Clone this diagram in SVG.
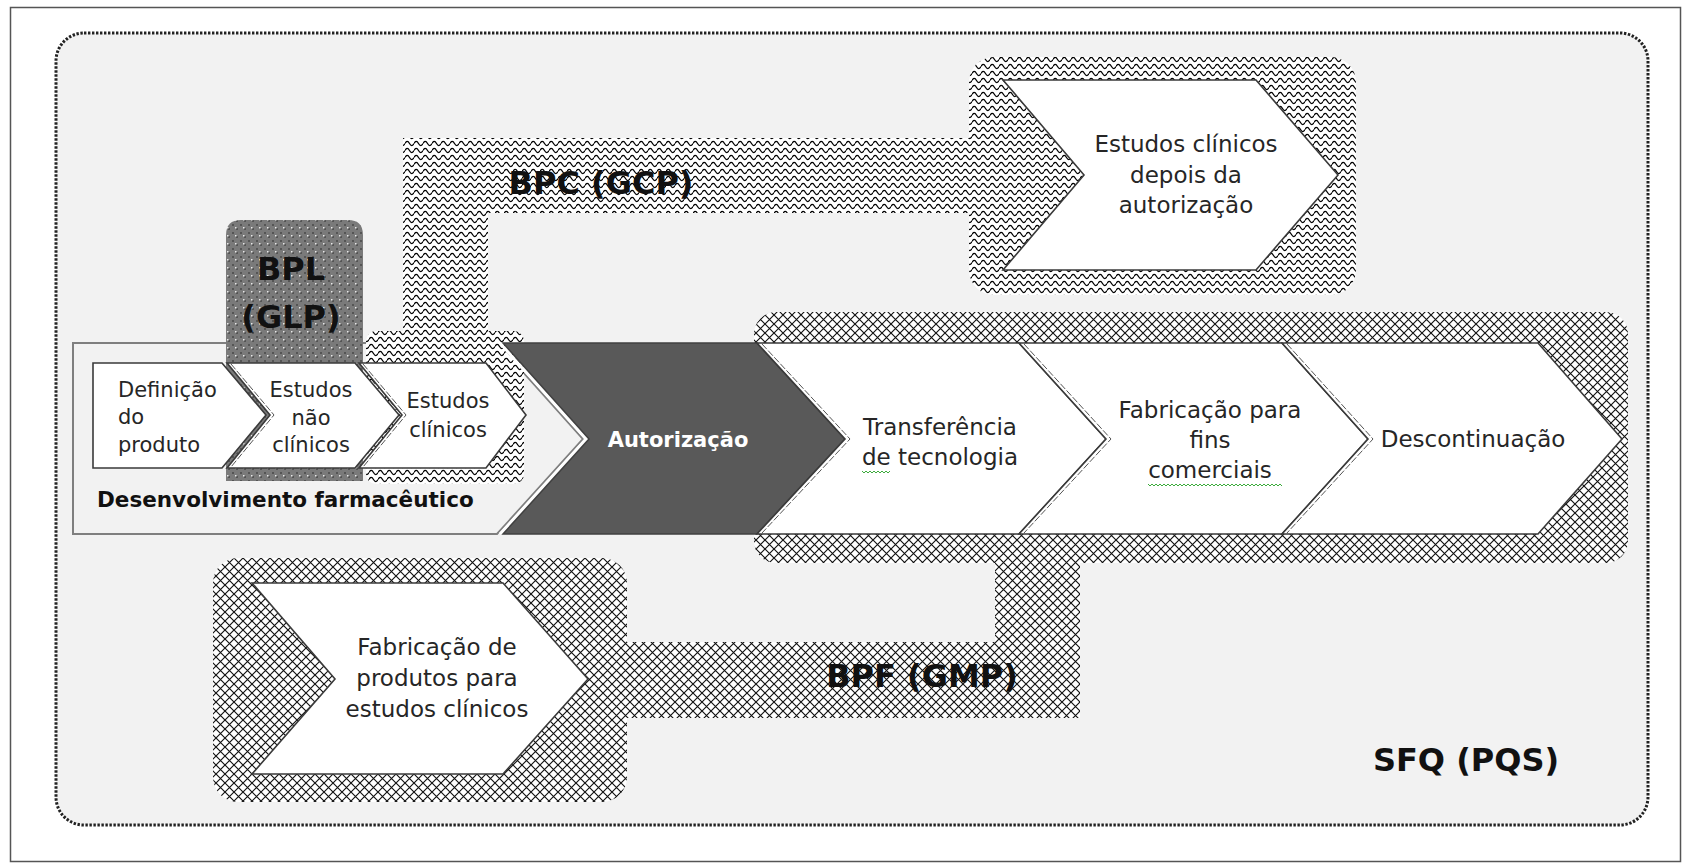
<svg xmlns="http://www.w3.org/2000/svg" width="1682" height="863" viewBox="0 0 1682 863">
<style>
text{font-family:'DejaVu Sans',Verdana,sans-serif;}
.t{font-size:23px;fill:#262626;text-anchor:middle;}
.s{font-size:21px;fill:#262626;}
.c{text-anchor:middle;}
.lbl{font-size:32px;font-weight:bold;fill:#111;text-anchor:middle;}
.chev{fill:#fff;stroke:#3a3a3a;stroke-width:1.6;stroke-linejoin:miter;}
.edge{fill:none;stroke:#555;stroke-width:1;stroke-dasharray:7 2;}
.wavy{fill:url(#wave);}
.hatch{fill:url(#xhatch);}
.sq{fill:none;stroke:#3cab3c;stroke-width:1;}
</style>
<defs>
<pattern id="wave" patternUnits="userSpaceOnUse" width="9" height="7">
<rect width="9" height="7" fill="#fff"/>
<path d="M0,3.5 C1.5,0.8 3,0.8 4.5,3.5 S7.5,6.2 9,3.5" fill="none" stroke="#000" stroke-width="1.25"/>
</pattern>
<pattern id="xhatch" patternUnits="userSpaceOnUse" width="9" height="9">
<rect width="9" height="9" fill="#fff"/>
<path d="M-1,-1 L10,10 M10,-1 L-1,10" fill="none" stroke="#111" stroke-width="1.15"/>
</pattern>
<pattern id="dots" patternUnits="userSpaceOnUse" width="8" height="8">
<rect width="8" height="8" fill="#7a7a7a"/>
<rect x="0" y="0" width="2" height="2" fill="#555"/>
<rect x="4" y="4" width="2" height="2" fill="#555"/>
<rect x="3" y="3" width="1.5" height="1.5" fill="#e8e8e8"/>
</pattern>
</defs>

<rect x="10.5" y="7.5" width="1670" height="854" fill="#fff" stroke="#555" stroke-width="1.5"/>

<g id="sfq">
<rect x="56" y="33" width="1592" height="792" rx="28" fill="#f2f2f2" stroke="#222" stroke-width="3" stroke-dasharray="2.4 1.6"/>
<text class="lbl" x="1466" y="771">SFQ (PQS)</text>
</g>

<g id="bpf-region">
<rect class="hatch" x="754" y="312" width="874" height="251" rx="22"/>
<rect class="hatch" x="995" y="550" width="85" height="168"/>
<rect class="hatch" x="600" y="642" width="480" height="76"/>
<rect class="hatch" x="213" y="558" width="414" height="244" rx="25"/>
<text class="lbl" x="922" y="687">BPF (GMP)</text>
</g>

<g id="desenvolvimento">
<path d="M73,343 L497,343 L583,439 L497,534 L73,534 Z" fill="#f2f2f2" stroke="#7f7f7f" stroke-width="2"/>
<text x="97" y="507" style="font-weight:bold;font-size:21.5px;fill:#111">Desenvolvimento farmacêutico</text>
</g>

<g id="bpl-region">
<path d="M226,481 L226,235 Q226,220 241,220 L348,220 Q363,220 363,235 L363,481 Z" fill="url(#dots)"/>
<text class="lbl" x="291" y="280">BPL</text>
<text class="lbl" x="291" y="328">(GLP)</text>
</g>

<g id="bpc-region">
<rect class="wavy" x="403" y="138" width="85" height="200"/>
<rect class="wavy" x="403" y="138" width="576" height="75"/>
<rect class="wavy" x="969" y="57" width="387" height="238" rx="25"/>
<rect class="wavy" x="366" y="331" width="158" height="153" rx="10"/>
<text class="lbl" x="601" y="194">BPC (GCP)</text>
</g>

<g id="definicao">
<path class="chev" d="M93,363 L222,363 L266,415 L222,468 L93,468 Z"/>
<text class="s" x="118" y="397">Definição</text>
<text class="s" x="118" y="424">do</text>
<text class="s" x="118" y="452">produto</text>
</g>

<g id="estudos-nao-clinicos">
<path class="chev" d="M227,363 L355,363 L399,415 L355,468 L227,468 L270,415 Z"/>
<path class="edge" d="M231,364 L274,415 L231,467"/>
<text class="s c" x="311" y="397">Estudos</text>
<text class="s c" x="311" y="425">não</text>
<text class="s c" x="311" y="452">clínicos</text>
</g>

<g id="estudos-clinicos">
<path class="chev" d="M359,363 L486,363 L526,415 L486,468 L359,468 L402,415 Z"/>
<path class="edge" d="M363,364 L406,415 L363,467"/>
<text class="s c" x="448" y="408">Estudos</text>
<text class="s c" x="448" y="437">clínicos</text>
</g>

<g id="autorizacao">
<path d="M500,343 L586,439 L500,534" fill="none" stroke="#fff" stroke-width="3"/>
<path d="M503,343 L757,343 L845,439 L757,534 L503,534 L589,439 Z" fill="#595959" stroke="#404040" stroke-width="1.5"/>
<text x="678" y="447" style="font-size:21px;font-weight:bold;fill:#fff;text-anchor:middle">Autorização</text>
</g>

<g id="transferencia">
<path class="chev" d="M757,343 L1019,343 L1106,439 L1019,534 L757,534 L845,439 Z"/>
<path class="edge" d="M762,344 L850,439 L762,533"/>
<text class="t" x="940" y="435">Transferência</text>
<text class="t" x="940" y="465">de tecnologia</text>
<path class="sq" d="M862,471 l2,2 l2,-2 l2,2 l2,-2 l2,2 l2,-2 l2,2 l2,-2 l2,2 l2,-2 l2,2 l2,-2 l2,2 l2,-2"/>
</g>

<g id="fabricacao-comercial">
<path class="chev" d="M1019,343 L1282,343 L1368,439 L1282,534 L1019,534 L1106,439 Z"/>
<path class="edge" d="M1024,344 L1111,439 L1024,533"/>
<text class="t" x="1210" y="418">Fabricação para</text>
<text class="t" x="1210" y="448">fins</text>
<text class="t" x="1210" y="478">comerciais</text>
<path class="sq" d="M1148,484 l2,2 l2,-2 l2,2 l2,-2 l2,2 l2,-2 l2,2 l2,-2 l2,2 l2,-2 l2,2 l2,-2 l2,2 l2,-2 l2,2 l2,-2 l2,2 l2,-2 l2,2 l2,-2 l2,2 l2,-2 l2,2 l2,-2 l2,2 l2,-2 l2,2 l2,-2 l2,2 l2,-2 l2,2 l2,-2 l2,2 l2,-2 l2,2 l2,-2 l2,2 l2,-2 l2,2 l2,-2 l2,2 l2,-2 l2,2 l2,-2 l2,2 l2,-2 l2,2 l2,-2 l2,2 l2,-2 l2,2 l2,-2 l2,2 l2,-2 l2,2 l2,-2 l2,2 l2,-2 l2,2 l2,-2 l2,2 l2,-2 l2,2 l2,-2 l2,2 l2,-2 l2,2"/>
</g>

<g id="descontinuacao">
<path class="chev" d="M1282,343 L1538,343 L1622,439 L1538,534 L1282,534 L1368,439 Z"/>
<path class="edge" d="M1287,344 L1373,439 L1287,533"/>
<text class="t" x="1473" y="447">Descontinuação</text>
</g>

<g id="estudos-pos-autorizacao">
<path class="chev" d="M1003,80 L1256,80 L1338,175 L1256,270 L1003,270 L1084,175 Z"/>
<text class="t" x="1186" y="152">Estudos clínicos</text>
<text class="t" x="1186" y="183">depois da</text>
<text class="t" x="1186" y="213">autorização</text>
</g>

<g id="fabricacao-estudos">
<path class="chev" d="M252,583 L503,583 L588,679 L503,774 L252,774 L335,679 Z"/>
<text class="t" x="437" y="655">Fabricação de</text>
<text class="t" x="437" y="686">produtos para</text>
<text class="t" x="437" y="717">estudos clínicos</text>
</g>

<g id="connectors"></g>
</svg>
